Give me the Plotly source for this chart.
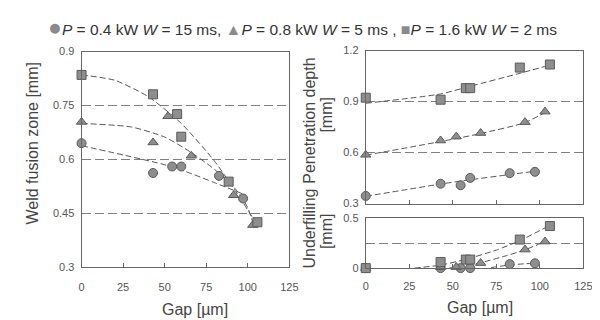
import plotly.graph_objects as go

# ---------------- data ----------------
gap_circle = [0, 43, 54.5, 60, 82.7, 97.2]
gap_triangle = [0, 43, 52, 66, 91.5, 103]
gap_square = [0, 43, 57.5, 60, 88.5, 105.8]

# Weld fusion zone [mm]
wfz_circle = [0.645, 0.562, 0.58, 0.58, 0.554, 0.491]
wfz_triangle = [0.704, 0.647, 0.72, 0.61, 0.50, 0.417]
wfz_square = [0.835, 0.781, 0.726, 0.663, 0.538, 0.425]

# Penetration depth [mm]
pd_circle = [0.345, 0.417, 0.408, 0.451, 0.479, 0.487]
pd_triangle = [0.587, 0.671, 0.694, 0.715, 0.779, 0.841]
pd_square = [0.923, 0.911, 0.979, 0.979, 1.10, 1.118]

# Underfilling [mm]
uf_circle = [0, 0, 0, 0, 0.04, 0.048]
uf_triangle = [0, 0.01, 0.01, 0.05, 0.185, 0.265]
uf_square = [0, 0.06, 0.085, 0.085, 0.285, 0.42]

# fitted trend curves
wfz_fit_sq_x = [0, 20, 40, 60, 80, 95, 106]
wfz_fit_sq_y = [0.835, 0.82, 0.775, 0.70, 0.595, 0.495, 0.415]
wfz_fit_tr_x = [0, 30, 50, 65, 80, 93, 100, 104]
wfz_fit_tr_y = [0.70, 0.69, 0.662, 0.622, 0.572, 0.515, 0.465, 0.41]
wfz_fit_ci_x = [0, 30, 50, 65, 80, 98]
wfz_fit_ci_y = [0.638, 0.607, 0.585, 0.562, 0.535, 0.502]

pd_fit_sq_x = [0, 43, 60, 88, 106]
pd_fit_sq_y = [0.89, 0.945, 0.99, 1.065, 1.115]
pd_fit_tr_x = [0, 43, 66, 91, 103]
pd_fit_tr_y = [0.585, 0.665, 0.712, 0.775, 0.835]
pd_fit_ci_x = [0, 43, 60, 82, 97]
pd_fit_ci_y = [0.343, 0.415, 0.44, 0.47, 0.49]

uf_fit_sq_x = [28, 43, 58, 75, 88, 105]
uf_fit_sq_y = [0, 0.03, 0.09, 0.18, 0.27, 0.42]
uf_fit_tr_x = [48, 65, 80, 91, 103]
uf_fit_tr_y = [0, 0.05, 0.12, 0.18, 0.265]
uf_fit_ci_x = [72, 82, 97]
uf_fit_ci_y = [0.005, 0.03, 0.05]

x_ticks = [0, 25, 50, 75, 100, 125]
wfz_ticks = [0.3, 0.45, 0.6, 0.75, 0.9]
wfz_ticktext = ["0.3", "0.45", "0.6", "0.75", "0.9"]
pd_ticks = [0.3, 0.6, 0.9, 1.2]
pd_ticktext = ["0.3", "0.6", "0.9", "1.2"]
uf_ticks = [0, 0.25, 0.5]
uf_ticktext = ["0", "", "0.5"]

# ---------------- styling ----------------
FONT = "Liberation Sans, Arial, sans-serif"
MFILL = "#8e8e8e"
MLINE = "#5a5a5a"
FITC = "#555555"
FRAME = "#666666"

fig = go.Figure()

def add_fit(x, y, xa, ya):
    fig.add_trace(go.Scatter(x=x, y=y, mode="lines", xaxis=xa, yaxis=ya,
                             line=dict(color=FITC, width=1, dash="6px,3px",
                                       shape="spline", smoothing=0.6),
                             showlegend=False, hoverinfo="skip"))

def add_pts(x, y, sym, xa, ya, size=9):
    fig.add_trace(go.Scatter(x=x, y=y, mode="markers", xaxis=xa, yaxis=ya,
                             marker=dict(symbol=sym, size=size, color=MFILL,
                                         line=dict(color=MLINE, width=1)),
                             cliponaxis=False, showlegend=False))

# left panel
add_fit(wfz_fit_sq_x, wfz_fit_sq_y, "x", "y")
add_fit(wfz_fit_tr_x, wfz_fit_tr_y, "x", "y")
add_fit(wfz_fit_ci_x, wfz_fit_ci_y, "x", "y")
add_pts(gap_circle, wfz_circle, "circle", "x", "y")
add_pts(gap_triangle, wfz_triangle, "triangle-up", "x", "y")
add_pts(gap_square, wfz_square, "square", "x", "y")

# right top panel
add_fit(pd_fit_sq_x, pd_fit_sq_y, "x2", "y2")
add_fit(pd_fit_tr_x, pd_fit_tr_y, "x2", "y2")
add_fit(pd_fit_ci_x, pd_fit_ci_y, "x2", "y2")
add_pts(gap_circle, pd_circle, "circle", "x2", "y2")
add_pts(gap_triangle, pd_triangle, "triangle-up", "x2", "y2")
add_pts(gap_square, pd_square, "square", "x2", "y2")

# right bottom panel
add_fit(uf_fit_sq_x, uf_fit_sq_y, "x3", "y3")
add_fit(uf_fit_tr_x, uf_fit_tr_y, "x3", "y3")
add_fit(uf_fit_ci_x, uf_fit_ci_y, "x3", "y3")
add_pts(gap_circle, uf_circle, "circle", "x3", "y3")
add_pts(gap_triangle, uf_triangle, "triangle-up", "x3", "y3")
add_pts(gap_square, uf_square, "square", "x3", "y3")

W, H = 600, 320
def px(v): return v / W
def py(v): return 1 - v / H

tickfont = dict(family=FONT, size=11, color="#555555")
common_x = dict(range=[0, 125], tickvals=x_ticks, showgrid=False, zeroline=False,
                showline=True, linecolor=FRAME, linewidth=1, mirror=True,
                ticks="inside", ticklen=4, tickcolor=FRAME, tickfont=tickfont)
common_y = dict(zeroline=False, showline=True, linecolor=FRAME, linewidth=1, mirror=True,
                ticks="", tickfont=tickfont, showgrid=True, gridcolor="#808080",
                gridwidth=1, griddash="9px,4px", ticklabelstandoff=4)

fig.update_layout(
    width=W, height=H, margin=dict(l=0, r=0, t=0, b=0),
    paper_bgcolor="white", plot_bgcolor="white", showlegend=False,
    font=dict(family=FONT, color="#444444"),
    xaxis=dict(common_x, domain=[px(72), px(284)], anchor="y", ticklabelstandoff=10),
    yaxis=dict(common_y, domain=[py(263), py(39)], anchor="x", range=[0.3, 0.9],
               tickvals=wfz_ticks, ticktext=wfz_ticktext),
    xaxis2=dict(common_x, domain=[px(362), px(584)], anchor="y2", showticklabels=False),
    yaxis2=dict(common_y, domain=[py(197), py(38)], anchor="x2", range=[0.3, 1.2],
                tickvals=pd_ticks, ticktext=pd_ticktext),
    xaxis3=dict(common_x, domain=[px(362), px(584)], anchor="y3", ticklabelstandoff=8),
    yaxis3=dict(common_y, domain=[py(264), py(212)], anchor="x3", range=[0, 0.5],
                tickvals=uf_ticks, ticktext=uf_ticktext),
)

SYM = "color:#8a8a8a;font-size:16px"
CSYM = "color:#8a8a8a;font-size:23px"
legend_text = (f"<span style='{CSYM}'>●</span><i>P</i> = 0.4 kW <i>W</i> = 15 ms, "
               f"<span style='{SYM}'>▲</span><i>P</i> = 0.8 kW <i>W</i> = 5 ms , "
               f"<span style='{SYM}'>■</span><i>P</i> = 1.6 kW <i>W</i> = 2 ms")

titlefont = dict(family=FONT, size=16, color="#444444")
ann = [
    dict(text=legend_text, x=px(297), y=py(14), font=dict(family=FONT, size=15.5, color="#333333")),
    dict(text="Weld fusion zone [mm]", x=px(22), y=py(135), textangle=-90, font=titlefont),
    dict(text="Penetration depth", x=px(305), y=py(111), textangle=-90, font=titlefont),
    dict(text="[mm]", x=px(322), y=py(105), textangle=-90, font=titlefont),
    dict(text="Underfilling", x=px(305), y=py(223), textangle=-90, font=titlefont),
    dict(text="[mm]", x=px(322), y=py(226), textangle=-90, font=titlefont),
    dict(text="Gap [µm]", x=px(188), y=py(307), font=titlefont),
    dict(text="Gap [µm]", x=px(479), y=py(305), font=titlefont),
]
for a in ann:
    a.update(xref="paper", yref="paper", showarrow=False, xanchor="center", yanchor="middle")
fig.update_layout(annotations=ann)

fig.write_html("out.html")
